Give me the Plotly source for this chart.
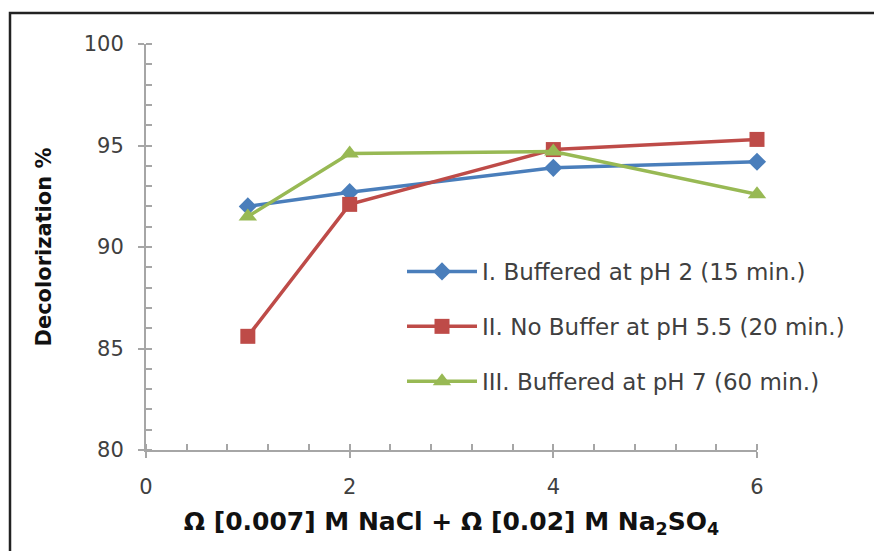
import plotly.graph_objects as go

x_vals = [1, 2, 4, 6]
series_names = [
    "I. Buffered at pH 2 (15 min.)",
    "II. No Buffer at pH 5.5 (20 min.)",
    "III. Buffered at pH 7 (60 min.)",
]
buffered_ph2 = [92.0, 92.7, 93.9, 94.2]
no_buffer_ph55 = [85.6, 92.1, 94.8, 95.3]
buffered_ph7 = [91.5, 94.6, 94.7, 92.6]

colors = ["#4a7ebb", "#be4b48", "#98b954"]
symbols = ["diamond", "square", "triangle-up"]
sizes = [14, 15, 16]

fig = go.Figure()
for i, (name, ys) in enumerate(zip(series_names, [buffered_ph2, no_buffer_ph55, buffered_ph7])):
    fig.add_trace(go.Scatter(
        x=x_vals, y=ys, name=name, mode="lines+markers",
        legendgroup=f"g{i}", cliponaxis=False,
        line=dict(color=colors[i], width=3.5),
        marker=dict(symbol=symbols[i], size=sizes[i], color=colors[i]),
    ))

W, H = 874, 551
L, R, T, B = 146, 117, 44, 101
pw, ph = W - L - R, H - T - B

def px_x(p):
    return (p - L) / pw

def px_y(p):
    return (H - B - p) / ph

fig.add_shape(type="rect", xref="paper", yref="paper",
              x0=px_x(10), x1=px_x(890), y0=px_y(570), y1=px_y(13),
              line=dict(color="#222222", width=2.5), fillcolor="rgba(0,0,0,0)")

tick_font = dict(family="DejaVu Sans", size=21, color="#404040")

fig.update_layout(
    width=W, height=H,
    margin=dict(l=L, r=R, t=T, b=B),
    paper_bgcolor="white", plot_bgcolor="white",
    showlegend=True,
    legend=dict(
        x=px_x(402), y=px_y(250), xanchor="left", yanchor="top",
        font=dict(family="DejaVu Sans", size=23, color="#404040"),
        traceorder="grouped", tracegroupgap=22, itemwidth=70,
        bgcolor="rgba(0,0,0,0)",
    ),
    xaxis=dict(
        range=[0, 6], dtick=2, tick0=0, showgrid=False, zeroline=False,
        showline=True, linecolor="#a6a6a6", linewidth=2,
        ticks="outside", ticklen=6, tickcolor="#a6a6a6", tickwidth=2,
        minor=dict(dtick=0.4, ticks="inside", ticklen=6, tickcolor="#a6a6a6", tickwidth=1.5),
        tickfont=tick_font, ticklabelstandoff=11,
        title=dict(text="<b>Ω [0.007] M NaCl + Ω [0.02] M Na<sub>2</sub>SO<sub>4</sub></b>",
                   font=dict(family="DejaVu Sans", size=25, color="#111111"), standoff=14),
    ),
    yaxis=dict(
        range=[80, 100], dtick=5, showgrid=False, zeroline=False,
        showline=True, linecolor="#a6a6a6", linewidth=2,
        ticks="outside", ticklen=6, tickcolor="#a6a6a6", tickwidth=2,
        minor=dict(dtick=1, ticks="inside", ticklen=6, tickcolor="#a6a6a6", tickwidth=1.5),
        tickfont=tick_font, ticklabelstandoff=10,
        title=dict(text="<b>Decolorization %</b>",
                   font=dict(family="DejaVu Sans", size=21, color="#111111"), standoff=26),
    ),
)

fig.write_html("out.html")
